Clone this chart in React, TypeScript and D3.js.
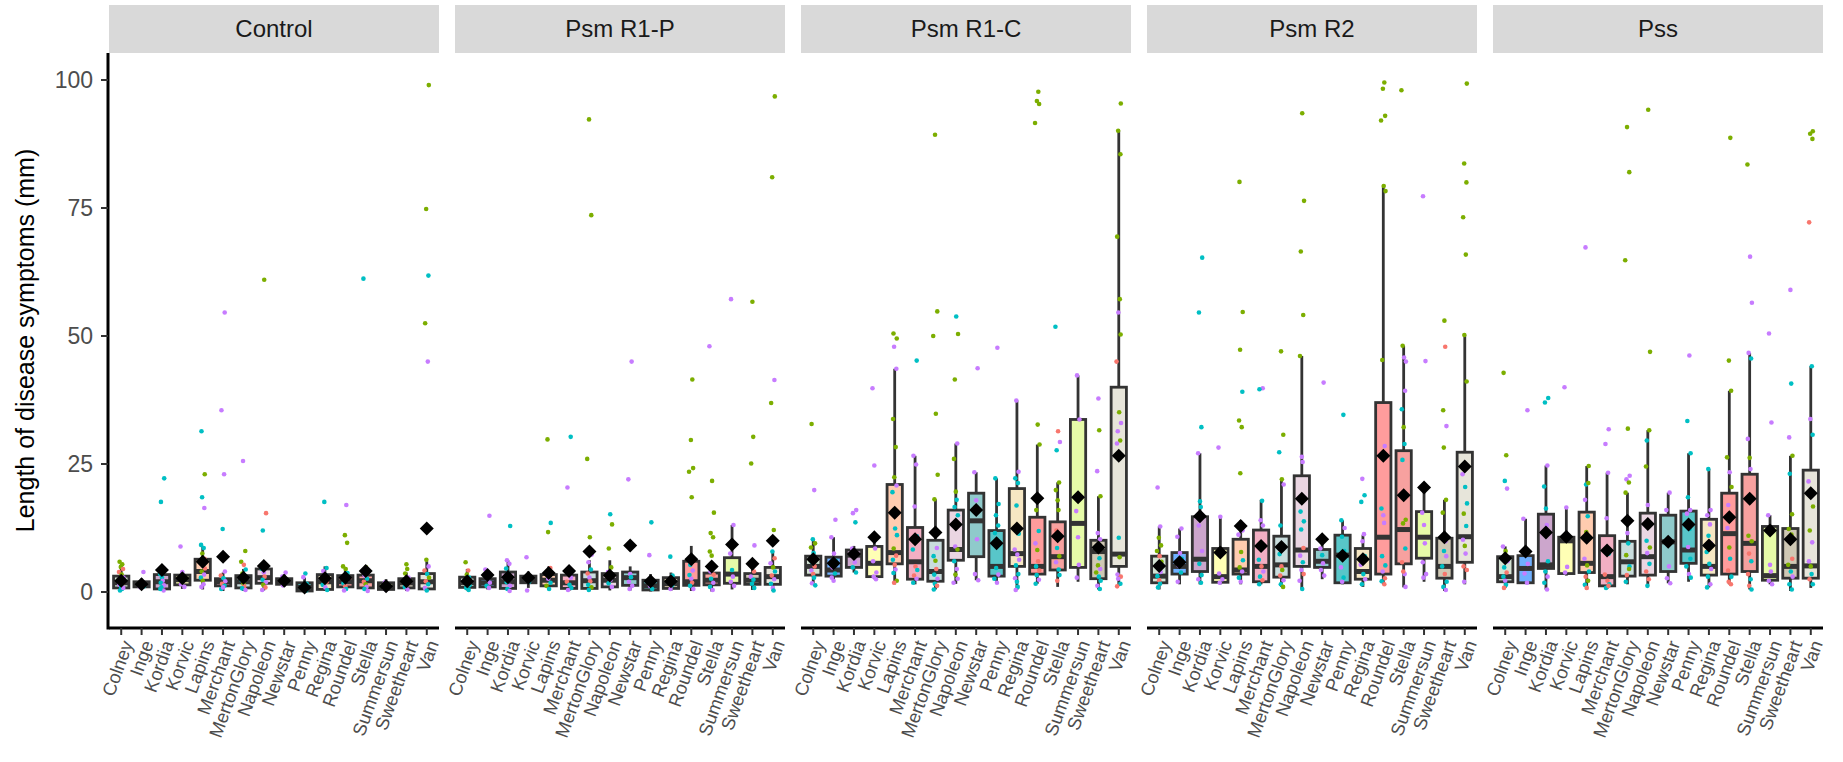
import React from "react";
import * as d3 from "d3";

// cultivars on the x axis of every panel
const cultivars = [
  "Colney", "Inge", "Kordia", "Korvic", "Lapins", "Merchant", "MertonGlory", "Napoleon",
  "Newstar", "Penny", "Regina", "Roundel", "Stella", "Summersun", "Sweetheart", "Van",
];
const treatments = ["Control", "Psm R1-P", "Psm R1-C", "Psm R2", "Pss"];
const yTicks = [0, 25, 50, 75, 100];

// box fill per cultivar
const boxFills = [
  "#D4E3D4", "#6FB0FF", "#CCA6CC", "#FFFFB5", "#FFCCB0", "#F2AFC3", "#C9DDDD", "#EAD6E2",
  "#8FCACB", "#58C6C9", "#F6E7C3", "#FF9C9C", "#F7A19F", "#E6FBA8", "#CFC8B4", "#E7E5DA",
];
// point colour per rep
const repColors: Record<string, string> = { r: "#F8766D", g: "#7CAE00", c: "#00BFC4", p: "#C77CFF" };

// [lower whisker, q1, median, q3, upper whisker, mean]
const controlBoxes = [
  [0.2, 0.8, 1.8, 3.1, 5.0, 2.2], [0.8, 1.0, 1.4, 2.0, 2.6, 1.5], [0.3, 0.6, 2.0, 3.4, 5.0, 4.3], [0.6, 1.4, 2.4, 3.3, 4.0, 2.7],
  [0.5, 2.3, 4.0, 6.4, 9.0, 5.9], [0.2, 1.2, 2.0, 2.6, 3.8, 6.9], [0.2, 0.8, 2.0, 3.2, 4.5, 2.8], [0.3, 1.7, 2.8, 4.5, 6.0, 5.1],
  [1.0, 1.5, 2.0, 2.6, 3.5, 2.2], [0.0, 0.2, 0.9, 1.8, 2.8, 0.9], [0.2, 0.5, 2.0, 3.4, 5.0, 2.7], [0.2, 1.0, 2.0, 3.2, 4.8, 2.8],
  [0.2, 0.8, 2.2, 3.3, 4.8, 4.1], [0.3, 0.5, 1.0, 1.8, 2.5, 1.1], [0.2, 0.8, 1.8, 2.6, 3.8, 2.1], [0.2, 0.6, 2.0, 3.6, 6.0, 12.4],
];
const controlPoints = [
  "g5.9 g5.4 g4.9 r4.5 r3.9 g3.4 p2.8 c2.2 r1.8 p1.4 c1.0 c0.6 c0.3 p0.8",
  "p3.9 p1.2 r1.4 c1.1 p0.9",
  "c22.2 c17.6 p4.7 c3.5 c2.8 p2.2 c1.8 p1.3 c0.9 p0.3 c0.6",
  "p8.9 p3.9 p2.5 p1.5 p1.0 c2.9",
  "c31.4 g23.0 c18.5 p16.4 c9.2 c8.6 g7.5 r6.5 g5.8 c5.2 r4.6 g4.0 p3.4 c2.8 g2.2 p1.5 p1.0",
  "p54.6 p35.5 p23.0 c12.3 p4.0 r3.2 c2.7 p2.1 r1.6 c1.2 c0.6 p0.9",
  "p25.6 g8.0 g5.9 r5.3 c4.4 g3.6 p2.9 c2.3 g1.6 r1.1 c0.7 p0.4",
  "g61.0 r15.4 c12.0 r5.4 c4.5 p3.8 r3.0 c2.4 p1.9 g1.4 r0.9 p0.4",
  "p3.8 p3.0 c2.4 p1.8 p1.3",
  "c3.6 p2.9 c1.6 p0.8 c0.3",
  "c17.6 c4.7 p4.1 c3.2 p2.7 r2.0 c1.4 p0.9 c0.4",
  "p17.0 g11.1 g9.6 g5.0 g4.5 c3.7 r3.0 p2.4 c1.7 r1.1 c0.6 p0.3",
  "c61.2 g4.8 r3.8 p3.2 c2.6 r2.0 g1.5 p1.0 c0.6 p0.2",
  "p1.9 c1.3 p0.8 p0.5",
  "g5.4 g4.5 g3.6 p2.8 c2.1 r1.6 c1.0 p0.5",
  "g99.0 g74.8 c61.8 g52.5 p45.0 g6.3 p5.0 r4.2 c3.5 g2.8 r2.1 c1.5 p0.8 c0.3",
];

const r1pBoxes = [
  [0.3, 0.9, 1.8, 2.9, 4.5, 2.1], [0.5, 1.0, 1.8, 2.6, 3.8, 3.3], [0.3, 0.7, 2.0, 3.9, 6.2, 2.9], [0.8, 1.8, 2.4, 3.1, 4.0, 2.8],
  [0.4, 1.2, 2.3, 3.4, 5.0, 3.7], [0.2, 0.7, 1.8, 3.3, 4.8, 4.1], [0.2, 0.7, 2.2, 3.9, 6.2, 7.9], [0.3, 1.0, 2.3, 3.6, 6.2, 3.2],
  [0.3, 1.3, 2.8, 3.9, 5.0, 9.1], [0.1, 0.4, 1.2, 2.3, 3.5, 2.1], [0.2, 0.7, 1.6, 2.8, 3.8, 2.1], [0.2, 1.3, 2.0, 6.0, 9.0, 6.4],
  [0.1, 1.4, 2.3, 3.7, 6.0, 5.0], [0.5, 1.7, 3.5, 6.7, 13.1, 9.3], [0.4, 1.5, 2.3, 3.6, 5.5, 5.5], [0.2, 1.5, 3.0, 4.8, 7.9, 10.0],
];
const r1pPoints = [
  "g5.8 r4.2 g3.4 c2.8 p2.2 r1.8 c1.3 c0.8 c0.4",
  "p14.9 p4.4 p2.6 p1.8 c1.2 p0.8",
  "c12.9 p6.2 p5.5 c4.6 c3.6 p2.7 c1.9 p1.2 c0.6 p0.2",
  "p6.8 p2.6 c2.0 p0.3",
  "g29.8 c13.5 g11.7 r4.7 g3.9 c3.2 p2.6 c1.8 g1.2 c0.6",
  "c30.3 p20.4 r4.4 c3.6 p2.8 r2.0 c1.4 c0.8 p0.4",
  "g92.3 g73.6 g26.0 g10.7 p7.3 p5.8 c4.4 r3.6 p2.8 r2.1 c1.4 g0.9 c0.4",
  "c15.2 g13.2 g8.5 g4.8 p3.9 c3.0 p2.4 c1.7 p1.0",
  "p45.0 p22.0 p3.5 c2.9 p2.0 p1.2 p0.6",
  "c13.6 p7.2 c2.0 p1.2 c0.6",
  "c6.9 c3.2 p2.4 c1.3 p0.6",
  "g41.5 g29.7 g24.2 g23.5 g18.5 g6.2 c5.3 p4.2 c3.3 p2.6 r1.8 c1.2 p0.6",
  "p48.0 g21.7 g15.5 g11.5 g10.7 g7.9 g7.1 c5.3 p4.0 r3.4 c2.6 p1.8 c1.0 p0.4",
  "p57.2 p13.1 p7.5 c4.3 p3.0 p2.0 p1.2",
  "g56.7 g30.3 g25.1 p9.1 g5.0 r4.0 p3.0 c2.4 c1.6 c0.8",
  "g96.8 g81.0 p41.4 g36.9 g12.1 c7.9 r6.6 p5.6 g4.8 c4.0 r3.2 p2.5 c1.6 p0.8 c0.3",
];

const r1cBoxes = [
  [1.7, 3.3, 5.0, 7.0, 10.4, 6.4], [2.0, 3.1, 4.3, 6.8, 10.7, 5.6], [3.8, 4.8, 7.2, 8.2, 9.0, 7.4], [2.5, 3.0, 5.6, 8.9, 10.0, 10.7],
  [1.5, 5.5, 7.7, 21.0, 43.6, 15.5], [1.5, 2.5, 5.9, 12.6, 26.6, 10.3], [0.5, 2.1, 4.0, 10.1, 18.1, 11.6], [1.6, 6.2, 8.3, 16.0, 29.0, 13.2],
  [2.3, 6.9, 13.9, 19.3, 23.4, 16.0], [1.8, 3.1, 5.0, 12.0, 22.2, 9.5], [0.4, 5.0, 7.5, 20.2, 37.4, 12.4], [1.6, 3.5, 5.0, 14.6, 28.8, 18.3],
  [1.0, 4.3, 6.9, 13.7, 21.4, 10.9], [2.0, 4.8, 13.4, 33.7, 42.3, 18.5], [0.5, 2.6, 7.9, 10.1, 18.7, 8.7], [1.2, 5.0, 7.4, 40.0, 90.1, 26.6],
];
const r1cPoints = [
  "g32.8 p19.9 c10.3 g9.5 g8.7 c7.6 p6.6 c5.8 r5.0 p4.2 r3.5 c2.8 p1.7 c1.3",
  "p14.1 p10.7 p7.5 c6.1 p4.8 c3.6 p2.8 p2.2",
  "p16.0 p15.4 c13.6 p8.5 c7.0 p5.8 c4.8 c3.8",
  "p39.8 p24.7 p8.5 p6.0 p3.8 p3.0 p2.5",
  "g50.5 g49.5 p47.9 p43.6 g33.8 g28.3 g22.4 p20.8 c19.5 c12.4 c11.1 g8.5 r7.1 c6.3 r5.3 p4.4 c3.7 g2.2 r1.8",
  "c45.2 p26.6 p24.9 p16.7 c10.9 c8.3 r5.0 c4.3 r3.2 p2.6 c1.8",
  "g89.3 g54.8 g50.0 g34.8 g22.9 g18.1 p8.6 c7.0 g6.1 r4.5 c3.4 p2.6 c1.6 r1.2 c0.5",
  "c53.8 g50.4 g41.5 p29.0 g26.0 g19.6 c18.0 c16.6 c15.0 p8.9 g8.3 c6.0 p4.5 g3.4 p2.6 p1.8",
  "p43.7 p23.4 p17.9 p10.3 p3.5 p2.3",
  "p47.7 c22.2 c17.2 c15.0 c13.0 c11.5 p9.2 c4.7 p3.4 c2.6 p1.8",
  "p37.4 p23.5 c22.2 c21.3 c16.9 c11.4 p8.3 p7.3 p6.3 c5.2 c3.5 p2.7 c2.0 c1.0 p0.4",
  "g97.7 g95.9 g95.3 g91.6 g32.7 g28.8 g16.0 c11.9 p9.5 g8.2 r6.0 c5.0 r4.2 c3.3 p2.4 c1.6",
  "c51.8 r31.4 p29.3 c27.7 g21.4 g19.9 g17.9 g16.0 r12.0 g10.6 c8.6 g7.0 p5.8 c4.4 r2.2 c3.3",
  "p42.3 p33.7 p15.8 p10.7 p5.3 p2.8",
  "p37.8 g31.6 p23.6 g18.7 p11.5 p10.3 g8.6 c6.6 g5.2 p4.5 g3.8 c3.0 c2.2 p1.2 c0.6",
  "g95.4 g90.1 g85.5 g69.4 g57.2 p54.6 g50.3 r45.0 g35.1 p33.0 p31.4 g29.6 p29.0 c10.6 g6.8 p3.4 r3.0 p2.6 c1.6 r1.1",
];

const r2Boxes = [
  [0.5, 1.8, 3.1, 7.0, 12.8, 5.1], [1.5, 3.5, 5.0, 7.7, 12.4, 5.8], [1.5, 4.0, 6.4, 14.7, 27.1, 14.8], [1.5, 1.9, 3.0, 8.5, 14.7, 7.7],
  [1.5, 3.5, 4.3, 10.3, 14.0, 12.9], [1.5, 2.0, 5.0, 12.1, 18.0, 9.0], [1.0, 2.9, 5.3, 10.9, 21.9, 8.8], [0.6, 5.0, 8.2, 22.7, 46.1, 18.2],
  [2.5, 4.8, 6.0, 8.3, 10.0, 10.3], [1.5, 1.8, 7.2, 11.1, 14.0, 7.1], [1.0, 2.5, 4.0, 8.5, 11.1, 6.4], [1.5, 3.5, 10.7, 37.0, 79.2, 26.6],
  [0.9, 5.5, 12.2, 27.6, 48.1, 18.9], [2.0, 6.6, 10.7, 15.7, 20.4, 20.4], [0.2, 2.7, 5.0, 10.5, 18.0, 10.7], [1.5, 5.8, 10.8, 27.3, 50.2, 24.5],
];
const r2Points = [
  "p20.4 p12.8 g10.6 g9.1 g8.0 r7.0 g5.9 c4.7 p3.9 c3.1 r2.3 c1.6 c0.9",
  "p12.4 p10.8 p7.6 c6.5 p5.2 c3.8 p2.0",
  "c65.3 c54.6 c32.2 p27.1 c17.7 c16.6 p13.0 p8.0 c5.5 c3.3 p2.5 c1.8",
  "p28.2 p14.7 p7.5 p3.6 p2.5 p1.8",
  "g80.1 g54.7 g47.3 c39.1 g33.5 g32.2 g23.2 p12.0 p11.2 g7.8 c6.2 g4.8 p4.0 c2.8 p2.0",
  "p39.8 c39.6 c17.8 p14.0 p13.0 c6.3 r5.0 p4.0 c3.0 r2.3 c1.5",
  "g47.0 g30.7 c27.3 g22.0 p21.0 c13.0 p9.0 c7.4 r5.0 g4.3 r3.2 p2.3 c1.5 g1.0",
  "g93.5 g76.4 g66.5 g54.1 g46.1 p26.4 p25.4 c15.7 c13.8 c12.2 r8.6 p7.1 c5.8 p4.3 r3.5 p2.2 c0.6",
  "p40.9 p8.5 c7.2 p5.6 p4.3 p3.2",
  "c34.6 c14.0 p12.5 c10.8 c8.0 p4.8 c2.8 p2.0",
  "p22.1 c18.9 c17.6 p11.3 p9.9 c7.0 p5.3 c3.5 p2.5 c1.5",
  "g99.5 g98.3 g93.0 g92.1 g79.3 g78.3 g45.3 p28.5 c16.3 p15.0 p13.5 c7.0 c5.2 p4.0 r2.7 c2.1 r1.5",
  "g98.0 p45.8 p45.0 g48.1 p39.3 c35.7 g32.2 c28.9 c25.8 g14.1 g13.4 c8.5 r5.8 p3.5 r4.0 p1.0",
  "p77.3 p45.1 p15.5 p13.1 p9.5 p5.8 p3.5 p2.8",
  "g53.0 r47.9 g35.5 p32.4 g28.2 g18.0 g15.5 p9.9 c8.0 p7.0 c5.0 r3.5 c2.0 c1.0 p0.4",
  "g99.3 g83.7 g80.0 g73.2 g65.9 g50.2 g41.1 p23.0 c20.5 c17.3 g15.3 c12.9 p10.2 g9.0 p7.5 r5.0 r4.3 p2.0",
];

const pssBoxes = [
  [0.8, 2.0, 3.0, 6.9, 8.9, 6.6], [1.8, 1.8, 4.6, 7.1, 14.3, 7.9], [0.5, 4.6, 5.3, 15.2, 24.7, 11.6], [3.2, 3.6, 10.0, 10.7, 16.5, 10.8],
  [0.5, 3.8, 5.6, 15.6, 24.6, 10.6], [0.6, 1.2, 3.0, 11.0, 23.3, 8.1], [1.5, 3.1, 5.9, 9.9, 19.4, 13.9], [1.1, 3.3, 6.9, 15.4, 31.6, 13.3],
  [1.7, 4.0, 9.8, 15.0, 19.4, 9.8], [2.0, 5.6, 8.2, 15.8, 27.1, 13.2], [0.9, 3.3, 5.0, 14.2, 24.0, 9.1], [1.5, 3.5, 11.4, 19.3, 39.3, 14.6],
  [0.5, 4.0, 9.5, 23.0, 46.7, 18.2], [1.5, 2.3, 3.2, 12.8, 15.0, 12.0], [0.2, 2.7, 5.0, 12.4, 26.6, 10.3], [0.8, 2.7, 5.1, 23.8, 44.1, 19.3],
];
const pssPoints = [
  "g42.8 g26.7 c21.7 p20.2 p8.9 g8.0 p6.0 c4.8 r3.8 c3.0 p2.2 c1.4 r0.8",
  "p35.5 p14.3 c7.4 p5.5 p3.6 p1.8",
  "c37.9 c37.0 p24.7 c20.6 c16.3 p13.1 p11.6 c6.0 c4.0 p3.0 c1.8 p0.5",
  "p40.0 p16.5 p4.9 p3.8",
  "p67.3 g24.6 c21.0 g21.3 p18.0 c14.8 g11.7 g10.8 p6.5 g5.2 c4.0 r3.0 g2.2 c1.4 r0.8",
  "p31.8 p28.9 p23.3 p14.4 c7.5 r3.4 r2.2 c1.5 c0.8 r1.2",
  "g90.8 g82.0 g64.8 g31.9 p22.7 p22.0 g21.4 g19.4 p11.5 c9.5 g7.2 c5.0 r3.3 g4.5 c2.0",
  "g94.2 g46.9 c29.6 g31.6 g24.5 p17.0 p13.2 c10.0 g8.7 p7.6 c5.5 r4.0 r2.5 c1.2",
  "p19.4 p16.0 c9.8 p5.0 p2.7 p1.7",
  "p46.2 c33.4 c27.1 c18.5 p16.0 p15.3 c12.3 p8.8 c6.5 c5.0 p3.5 c2.8",
  "c24.0 p16.0 p15.0 p13.2 c11.0 p9.5 c7.8 c5.5 p4.5 c3.0 p1.5 c0.9",
  "g88.7 g45.2 g39.3 g26.3 p23.4 g20.5 p17.0 p14.5 p12.5 g8.7 c6.5 r4.2 c3.0 r2.0 r1.5",
  "g83.5 p65.5 p56.5 p46.7 c45.6 p29.9 g26.2 p24.0 g11.0 g9.9 r7.5 c6.0 r3.5 c2.5 r1.2 c0.5",
  "p50.5 p33.1 p15.0 p5.3 p4.0 p2.2 p1.5",
  "p59.0 c40.7 p30.2 g26.6 c23.1 g15.2 g12.3 g11.2 p10.0 r6.5 g5.3 c4.0 p3.0 c1.5 c0.5",
  "g90.0 g89.5 g88.5 r72.2 c44.1 p33.8 c30.7 p21.6 g19.0 g16.7 g12.0 p9.7 p6.0 g5.0 c3.5 r2.5 c1.5",
];

const panelBoxes = [controlBoxes, r1pBoxes, r1cBoxes, r2Boxes, pssBoxes];
const panelPoints = [controlPoints, r1pPoints, r1cPoints, r2Points, pssPoints];

// fixed horizontal jitter (fraction of a category step)
const jitter = [-0.08, 0.05, -0.02, 0.09, -0.11, 0.02, 0.11, -0.05, 0.07, -0.09, 0.0, 0.04, -0.06, 0.1, -0.03, 0.08];

const W = 1843;
const H = 762;
const panelLeft = 109;
const panelWidth = 330;
const panelGap = 16;
const plotTop = 53;
const plotBottom = 628;
const font = "'Liberation Sans', Arial, Helvetica, sans-serif";

const parsePoints = (s: string) =>
  s.split(" ").map((tok) => ({ col: repColors[tok[0]], v: +tok.slice(1) }));

const diamond = (x: number, y: number, r: number) =>
  `M${x},${y - r}L${x + r},${y}L${x},${y + r}L${x - r},${y}Z`;

const Panel = ({ idx }: { idx: number }) => {
  const x0 = panelLeft + idx * (panelWidth + panelGap);
  const x = d3.scalePoint<string>().domain(cultivars).range([x0, x0 + panelWidth]).padding(0.6);
  const y = d3.scaleLinear().domain([0, 100]).range([592, 80]);
  const step = x.step();
  const bw = step * 0.75;
  const boxes = panelBoxes[idx];
  const pts = panelPoints[idx];
  return (
    <g>
      <rect x={x0} y={5} width={panelWidth} height={plotTop - 5} fill="#D9D9D9" />
      <text x={x0 + panelWidth / 2} y={29} dy="0.35em" textAnchor="middle" fontSize={24} fill="#1A1A1A" fontFamily={font}>
        {treatments[idx]}
      </text>
      {cultivars.map((c, i) => {
        const [lo, q1, med, q3, hi] = boxes[i];
        const cx = x(c)!;
        return (
          <g key={"b" + c}>
            <line x1={cx} x2={cx} y1={y(q3)} y2={y(hi)} stroke="#333333" strokeWidth={2.8} />
            <line x1={cx} x2={cx} y1={y(q1)} y2={y(lo)} stroke="#333333" strokeWidth={2.8} />
            <rect x={cx - bw / 2} y={y(q3)} width={bw} height={Math.max(0.5, y(q1) - y(q3))} fill={boxFills[i]} stroke="#333333" strokeWidth={2.8} />
            <line x1={cx - bw / 2} x2={cx + bw / 2} y1={y(med)} y2={y(med)} stroke="#333333" strokeWidth={5} />
          </g>
        );
      })}
      {cultivars.map((c, i) =>
        parsePoints(pts[i]).map((p, j) => (
          <circle key={"p" + c + j} cx={x(c)! + jitter[(j + i * 3) % jitter.length] * step} cy={y(p.v)} r={2.3} fill={p.col} />
        ))
      )}
      {cultivars.map((c, i) => (
        <path key={"m" + c} d={diamond(x(c)!, y(boxes[i][5]), 7)} fill="#000" />
      ))}
      <line x1={x0} x2={x0 + panelWidth} y1={plotBottom} y2={plotBottom} stroke="#000" strokeWidth={3} />
      {cultivars.map((c) => (
        <g key={"t" + c}>
          <line x1={x(c)} x2={x(c)} y1={plotBottom} y2={plotBottom + 7} stroke="#333333" strokeWidth={2} />
          <text
            transform={`translate(${x(c)},${plotBottom + 11}) rotate(-70)`}
            textAnchor="end"
            dy="0.7em"
            fontSize={18.5}
            fill="#4D4D4D"
            fontFamily={font}
          >
            {c}
          </text>
        </g>
      ))}
    </g>
  );
};

export default function App() {
  const y = d3.scaleLinear().domain([0, 100]).range([592, 80]);
  return (
    <svg width={W} height={H} style={{ position: "absolute", left: 0, top: 0, background: "#fff" }}>
      <rect width={W} height={H} fill="#fff" />
      {treatments.map((t, i) => (
        <Panel key={t} idx={i} />
      ))}
      <line x1={108} x2={108} y1={plotTop} y2={plotBottom + 1.5} stroke="#000" strokeWidth={3} />
      {yTicks.map((t) => (
        <g key={t}>
          <line x1={101} x2={108} y1={y(t)} y2={y(t)} stroke="#333333" strokeWidth={2} />
          <text x={93} y={y(t)} dy="0.36em" textAnchor="end" fontSize={23} fill="#4D4D4D" fontFamily={font}>
            {t}
          </text>
        </g>
      ))}
      <text
        transform={`translate(25,${(plotTop + plotBottom) / 2}) rotate(-90)`}
        textAnchor="middle"
        dy="0.35em"
        fontSize={25}
        fill="#000"
        fontFamily={font}
      >
        Length of disease symptoms (mm)
      </text>
    </svg>
  );
}
